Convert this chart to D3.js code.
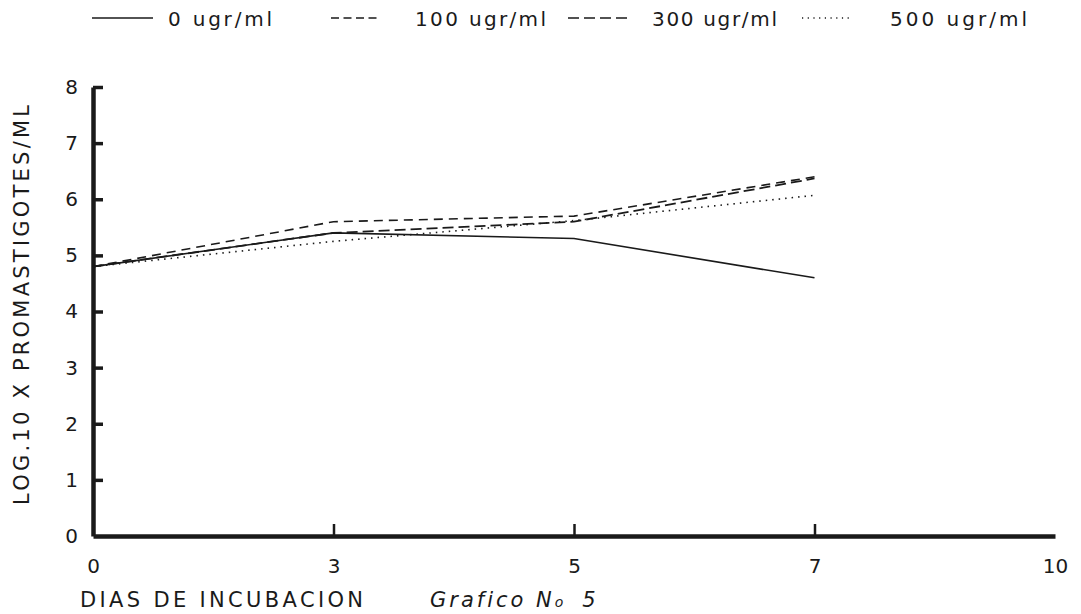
<!DOCTYPE html>
<html>
<head>
<meta charset="utf-8">
<script src="https://cdn.jsdelivr.net/npm/d3@7"></script>
<style>
  body { margin: 0; background: #fff; }
  svg { display: block; font-family: "DejaVu Sans", sans-serif; }
</style>
</head>
<body>
<svg id="chart" width="1081" height="614"></svg>
<script>
// days on the x axis (categorical, equally spaced)
const days = [0, 3, 5, 7, 10];
const tickDays = [3, 5, 7];
const yTicks = [0, 1, 2, 3, 4, 5, 6, 7, 8];

// log10 promastigotes/ml per concentration
const seriesNames = ["0 ugr/ml", "100 ugr/ml", "300 ugr/ml", "500 ugr/ml"];
const dose0   = [4.8, 5.4, 5.3, 4.6];
const dose100 = [4.8, 5.6, 5.7, 6.4];
const dose300 = [4.8, 5.4, 5.6, 6.37];
const dose500 = [4.8, 5.25, 5.62, 6.07];
const lineDays = [0, 3, 5, 7];

const svg = d3.select("#chart");
const ink = "#1a1a1a";

const x = d3.scalePoint().domain(days).range([93, 1055]);
const y = d3.scaleLinear().domain([0, 8]).range([536, 87]);

const styles = [
  { dash: null, w: 1.6 },
  { dash: "9,6", w: 1.6 },
  { dash: "11,5", w: 1.8 },
  { dash: "1.5,5", w: 1.6 }
];
const legendDash = [null, "8,4.5", "11,5", "1.2,4.5"];

const series = [dose0, dose100, dose300, dose500].map((vals, i) => ({
  name: seriesNames[i],
  values: vals.map((v, j) => ({ day: lineDays[j], v }))
}));

// y axis
const yAxis = svg.append("g")
  .attr("transform", `translate(${x(0)},0)`)
  .call(d3.axisLeft(y).tickValues(yTicks).tickSizeInner(-10).tickSizeOuter(0).tickPadding(15));
yAxis.select(".domain").attr("stroke", ink).attr("stroke-width", 4.5);
yAxis.selectAll(".tick line").attr("stroke", ink).attr("stroke-width", 3.5)
  .style("display", d => d === 0 ? "none" : null);
yAxis.selectAll(".tick text").attr("font-size", 20).attr("fill", ink)
  .attr("font-family", "DejaVu Sans");

// x axis
const xAxis = svg.append("g")
  .attr("transform", `translate(0,${y(0)})`)
  .call(d3.axisBottom(x).tickSizeInner(-12).tickSizeOuter(0).tickPadding(23));
xAxis.select(".domain").attr("stroke", ink).attr("stroke-width", 4.5);
xAxis.selectAll(".tick line").attr("stroke", ink).attr("stroke-width", 2.5)
  .style("display", d => tickDays.includes(d) ? null : "none");
xAxis.selectAll(".tick text").attr("font-size", 20).attr("fill", ink)
  .attr("font-family", "DejaVu Sans");

// lines
const line = d3.line().x(d => x(d.day)).y(d => y(d.v));
svg.append("g").selectAll("path")
  .data(series)
  .join("path")
  .attr("d", d => line(d.values))
  .attr("fill", "none")
  .attr("stroke", ink)
  .attr("stroke-width", (d, i) => styles[i].w)
  .attr("stroke-dasharray", (d, i) => styles[i].dash);

// legend
const legendX = [92, 331, 568, 802];
const legendW = [61, 46, 59, 50];
const legendTextX = [168, 415, 652, 890];
const legendTextW = [104, 131, 125, 137];
const legend = svg.append("g");
series.forEach((s, i) => {
  legend.append("line")
    .attr("x1", legendX[i]).attr("x2", legendX[i] + legendW[i])
    .attr("y1", 18).attr("y2", 18)
    .attr("stroke", ink).attr("stroke-width", 1.6)
    .attr("stroke-dasharray", legendDash[i]);
  legend.append("text")
    .attr("x", legendTextX[i]).attr("y", 26)
    .attr("font-size", 20).attr("fill", ink)
    .attr("textLength", legendTextW[i]).attr("lengthAdjust", "spacing")
    .text(s.name);
});

// axis titles
svg.append("text")
  .attr("transform", "translate(29,305) rotate(-90)")
  .attr("text-anchor", "middle")
  .attr("font-size", 21).attr("fill", ink)
  .attr("textLength", 400).attr("lengthAdjust", "spacing")
  .text("LOG.10 X PROMASTIGOTES/ML");

svg.append("text")
  .attr("x", 80).attr("y", 607)
  .attr("font-size", 21).attr("fill", ink)
  .attr("textLength", 283).attr("lengthAdjust", "spacing")
  .text("DIAS DE INCUBACION");

const cap = svg.append("text")
  .attr("x", 430).attr("y", 607)
  .attr("font-size", 21).attr("fill", ink)
  .attr("font-style", "italic")
  .style("letter-spacing", "3px");
cap.append("tspan").text("Grafico N");
cap.append("tspan").attr("font-size", 14).text("o");
cap.append("tspan").attr("dx", 16).text("5");
</script>
</body>
</html>
